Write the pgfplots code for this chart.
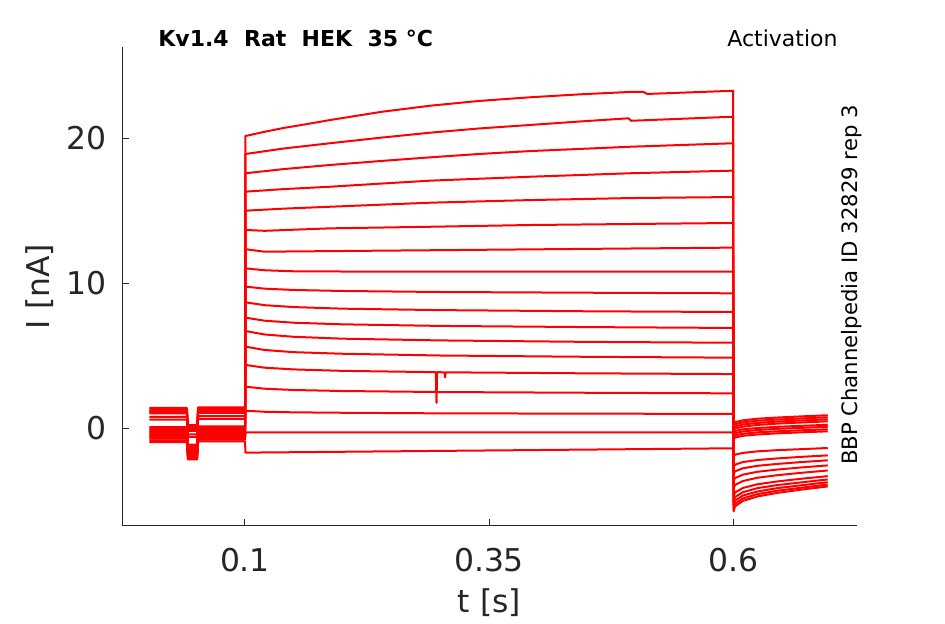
\documentclass[border=0pt]{standalone}
\usepackage{fontspec}
\setmainfont{DejaVu Sans}
\usepackage{pgfplots}
\pgfplotsset{compat=1.18}
\definecolor{axgray}{HTML}{262626}
\definecolor{trred}{RGB}{255,0,0}
\tikzset{trace/.style={color=trred, solid, line width=1pt, line join=round}}
\begin{document}
\begin{tikzpicture}
\useasboundingbox (0,0) rectangle (472.5pt,312pt);
\begin{axis}[
  at={(61pt,49pt)}, anchor=south west,
  width=367.5pt, height=239.5pt, scale only axis,
  xmin=-0.026, xmax=0.727, ymin=-6.74, ymax=26.30,
  axis lines*=left,
  axis line style={axgray, line width=0.5pt},
  xtick={0.1,0.35,0.6}, xticklabels={0.1,0.35,0.6},
  ytick={0,10,20}, yticklabels={0,10,20},
  tick align=inside, major tick length=3.5pt,
  tick style={axgray, line width=0.5pt},
  /pgf/number format/assume math mode=true,
  ticklabel style={font=\fontsize{15.7}{18}\selectfont, text=axgray},
  xticklabel style={anchor=base, yshift=-23pt},
  yticklabel style={anchor=east, inner sep=0pt, xshift=-7.5pt},
  xlabel={t [s]}, ylabel={I [nA]},
  label style={font=\fontsize{15.7}{18}\selectfont, text=axgray},
  xlabel style={at={(axis description cs:0.5,-0.1816)}, anchor=base},
  ylabel style={at={(axis description cs:-0.0993,0.5)}, anchor=base},
  clip=false,
]
% trace 1
\addplot[trace] coordinates {(0.002,1.40) (0.0405,1.40) (0.0415,0.22) (0.051,0.22) (0.052,1.45) (0.1,1.45) (0.1005,20.16) (0.12,20.45) (0.14,20.72) (0.165,21.00) (0.187,21.26) (0.24,21.83) (0.29,22.25) (0.34,22.58) (0.392,22.83) (0.445,23.04) (0.495,23.20) (0.508,23.21) (0.512,23.06) (0.6,23.28) (0.6005,-5.73) (0.602,-5.39) (0.61,-5.01) (0.625,-4.70) (0.645,-4.46) (0.67,-4.23) (0.697,-4.01)};
% trace 2
\addplot[trace] coordinates {(0.002,1.30) (0.0405,1.30) (0.0415,0.10) (0.051,0.10) (0.052,1.35) (0.1,1.35) (0.1005,18.92) (0.14,19.30) (0.187,19.66) (0.24,20.05) (0.29,20.39) (0.34,20.68) (0.392,20.92) (0.445,21.17) (0.4927,21.38) (0.4957,21.21) (0.6,21.49) (0.6005,-5.54) (0.602,-5.21) (0.61,-4.84) (0.625,-4.54) (0.645,-4.31) (0.67,-4.10) (0.697,-3.88)};
% trace 3
\addplot[trace] coordinates {(0.002,1.20) (0.0405,1.20) (0.0415,0.00) (0.051,0.00) (0.052,1.25) (0.1,1.25) (0.1005,17.59) (0.14,17.88) (0.187,18.16) (0.24,18.44) (0.29,18.69) (0.34,18.92) (0.392,19.12) (0.495,19.42) (0.6,19.66) (0.6005,-5.31) (0.602,-4.99) (0.61,-4.64) (0.625,-4.36) (0.645,-4.13) (0.67,-3.93) (0.697,-3.72)};
% trace 4
\addplot[trace] coordinates {(0.002,1.10) (0.0405,1.10) (0.0415,-0.10) (0.051,-0.10) (0.052,1.15) (0.1,1.15) (0.1005,16.32) (0.14,16.50) (0.187,16.66) (0.24,16.88) (0.29,17.08) (0.392,17.35) (0.495,17.59) (0.6,17.77) (0.6005,-5.04) (0.602,-4.74) (0.61,-4.41) (0.625,-4.13) (0.645,-3.92) (0.67,-3.73) (0.697,-3.53)};
% trace 5
\addplot[trace] coordinates {(0.002,1.02) (0.0405,1.02) (0.0415,-0.18) (0.051,-0.18) (0.052,1.07) (0.1,1.07) (0.1005,15.01) (0.14,15.15) (0.187,15.28) (0.29,15.56) (0.392,15.74) (0.495,15.88) (0.6,15.95) (0.6005,-4.71) (0.602,-4.43) (0.61,-4.12) (0.625,-3.86) (0.645,-3.67) (0.67,-3.48) (0.697,-3.30)};
% trace 6
\addplot[trace] coordinates {(0.002,0.78) (0.0405,0.78) (0.0415,-0.42) (0.051,-0.42) (0.052,0.83) (0.1,0.83) (0.1005,13.68) (0.12,13.62) (0.187,13.79) (0.29,13.90) (0.392,14.02) (0.495,14.09) (0.6,14.16) (0.6005,-4.16) (0.602,-3.91) (0.61,-3.64) (0.625,-3.41) (0.645,-3.24) (0.67,-3.07) (0.697,-2.91)};
% trace 7
\addplot[trace] coordinates {(0.002,0.60) (0.0405,0.60) (0.0415,-0.60) (0.051,-0.60) (0.052,0.65) (0.1,0.65) (0.1005,12.35) (0.12,12.18) (0.187,12.22) (0.29,12.28) (0.392,12.34) (0.495,12.40) (0.6,12.46) (0.6005,-3.66) (0.602,-3.44) (0.61,-3.20) (0.625,-3.00) (0.645,-2.85) (0.67,-2.70) (0.697,-2.56)};
% trace 8
\addplot[trace] coordinates {(0.002,0.08) (0.0405,0.08) (0.0415,-1.12) (0.051,-1.12) (0.052,0.13) (0.1,0.13) (0.1005,11.03) (0.12,10.90) (0.153,10.82) (0.3,10.80) (0.6,10.80) (0.6005,-3.16) (0.602,-2.97) (0.61,-2.76) (0.625,-2.59) (0.645,-2.46) (0.67,-2.33) (0.697,-2.21)};
% trace 9
\addplot[trace] coordinates {(0.002,-0.02) (0.0405,-0.02) (0.0415,-1.22) (0.051,-1.22) (0.052,0.03) (0.1,0.03) (0.1005,9.77) (0.12,9.63) (0.15,9.54) (0.2,9.47) (0.3,9.40) (0.45,9.35) (0.6,9.31) (0.6005,-2.67) (0.602,-2.51) (0.61,-2.33) (0.625,-2.19) (0.645,-2.08) (0.67,-1.97) (0.697,-1.87)};
% trace 10
\addplot[trace] coordinates {(0.002,-0.12) (0.0405,-0.12) (0.0415,-1.32) (0.051,-1.32) (0.052,-0.07) (0.1,-0.07) (0.1005,8.69) (0.12,8.49) (0.15,8.36) (0.2,8.25) (0.3,8.15) (0.45,8.07) (0.6,8.02) (0.6005,-1.94) (0.602,-1.82) (0.61,-1.70) (0.625,-1.59) (0.645,-1.51) (0.67,-1.44) (0.697,-1.36)};
% trace 11
\addplot[trace] coordinates {(0.002,-0.22) (0.0405,-0.22) (0.0415,-1.42) (0.051,-1.42) (0.052,-0.17) (0.1,-0.17) (0.1005,7.63) (0.12,7.42) (0.15,7.28) (0.2,7.17) (0.3,7.06) (0.45,6.98) (0.6,6.92) (0.6005,-0.75) (0.602,-0.64) (0.61,-0.52) (0.625,-0.43) (0.645,-0.35) (0.67,-0.28) (0.697,-0.21)};
% trace 12
\addplot[trace] coordinates {(0.002,-0.32) (0.0405,-0.32) (0.0415,-1.52) (0.051,-1.52) (0.052,-0.27) (0.1,-0.27) (0.1005,6.71) (0.12,6.47) (0.15,6.31) (0.2,6.18) (0.3,6.06) (0.45,5.96) (0.6,5.90) (0.6005,-0.60) (0.602,-0.49) (0.61,-0.38) (0.625,-0.28) (0.645,-0.21) (0.67,-0.14) (0.697,-0.07)};
% trace 13
\addplot[trace] coordinates {(0.002,-0.42) (0.0405,-0.42) (0.0415,-1.62) (0.051,-1.62) (0.052,-0.37) (0.1,-0.37) (0.1005,5.63) (0.12,5.40) (0.15,5.25) (0.2,5.14) (0.3,5.02) (0.45,4.93) (0.6,4.87) (0.6005,-0.45) (0.602,-0.34) (0.61,-0.22) (0.625,-0.12) (0.645,-0.04) (0.67,0.03) (0.697,0.10)};
% trace 14
\addplot[trace] coordinates {(0.002,-0.52) (0.0405,-0.52) (0.0415,-1.72) (0.051,-1.72) (0.052,-0.47) (0.1,-0.47) (0.1005,4.37) (0.12,4.18) (0.15,4.06) (0.2,3.96) (0.2955,3.87) (0.2962,1.75) (0.2968,3.87) (0.3045,3.86) (0.305,3.51) (0.3056,3.86) (0.45,3.79) (0.6,3.74) (0.6005,-0.30) (0.602,-0.19) (0.61,-0.07) (0.625,0.02) (0.645,0.10) (0.67,0.17) (0.697,0.24)};
% trace 15
\addplot[trace] coordinates {(0.002,-0.62) (0.0405,-0.62) (0.0415,-1.82) (0.051,-1.82) (0.052,-0.57) (0.1,-0.57) (0.1005,2.87) (0.12,2.73) (0.15,2.64) (0.2,2.57) (0.3,2.50) (0.45,2.45) (0.6,2.41) (0.6005,-0.15) (0.602,-0.02) (0.61,0.11) (0.625,0.23) (0.645,0.32) (0.67,0.40) (0.697,0.48)};
% trace 16
\addplot[trace] coordinates {(0.002,-0.72) (0.0405,-0.72) (0.0415,-1.92) (0.051,-1.92) (0.052,-0.67) (0.1,-0.67) (0.1005,1.21) (0.12,1.14) (0.15,1.10) (0.2,1.07) (0.3,1.03) (0.45,1.01) (0.6,0.99) (0.6005,0.00) (0.602,0.12) (0.61,0.26) (0.625,0.37) (0.645,0.46) (0.67,0.54) (0.697,0.62)};
% trace 17
\addplot[trace] coordinates {(0.002,-0.84) (0.0405,-0.84) (0.0415,-2.04) (0.051,-2.04) (0.052,-0.79) (0.1,-0.79) (0.1005,-0.28) (0.6,-0.28) (0.6005,0.15) (0.602,0.27) (0.61,0.41) (0.625,0.52) (0.645,0.60) (0.67,0.68) (0.697,0.76)};
% trace 18
\addplot[trace] coordinates {(0.002,-0.95) (0.0405,-0.95) (0.0415,-2.15) (0.051,-2.15) (0.052,-0.90) (0.1,-0.90) (0.1005,-1.68) (0.6,-1.38) (0.6005,0.30) (0.602,0.42) (0.61,0.55) (0.625,0.66) (0.645,0.74) (0.67,0.82) (0.697,0.90)};
\node[anchor=base west, inner sep=0pt, font=\fontsize{11}{13}\selectfont\bfseries] at (axis description cs:0.049,1.0) {Kv1.4~~Rat~~HEK~~35~°C};
\node[anchor=base east, inner sep=0pt, font=\fontsize{11}{13}\selectfont] at (axis description cs:0.974,1.002) {Activation};
\node[rotate=90, anchor=base, inner sep=0pt, font=\fontsize{10.6}{12}\selectfont] at (axis description cs:1.001,0.503) {BBP Channelpedia ID 32829 rep 3};
\end{axis}
\end{tikzpicture}
\end{document}
